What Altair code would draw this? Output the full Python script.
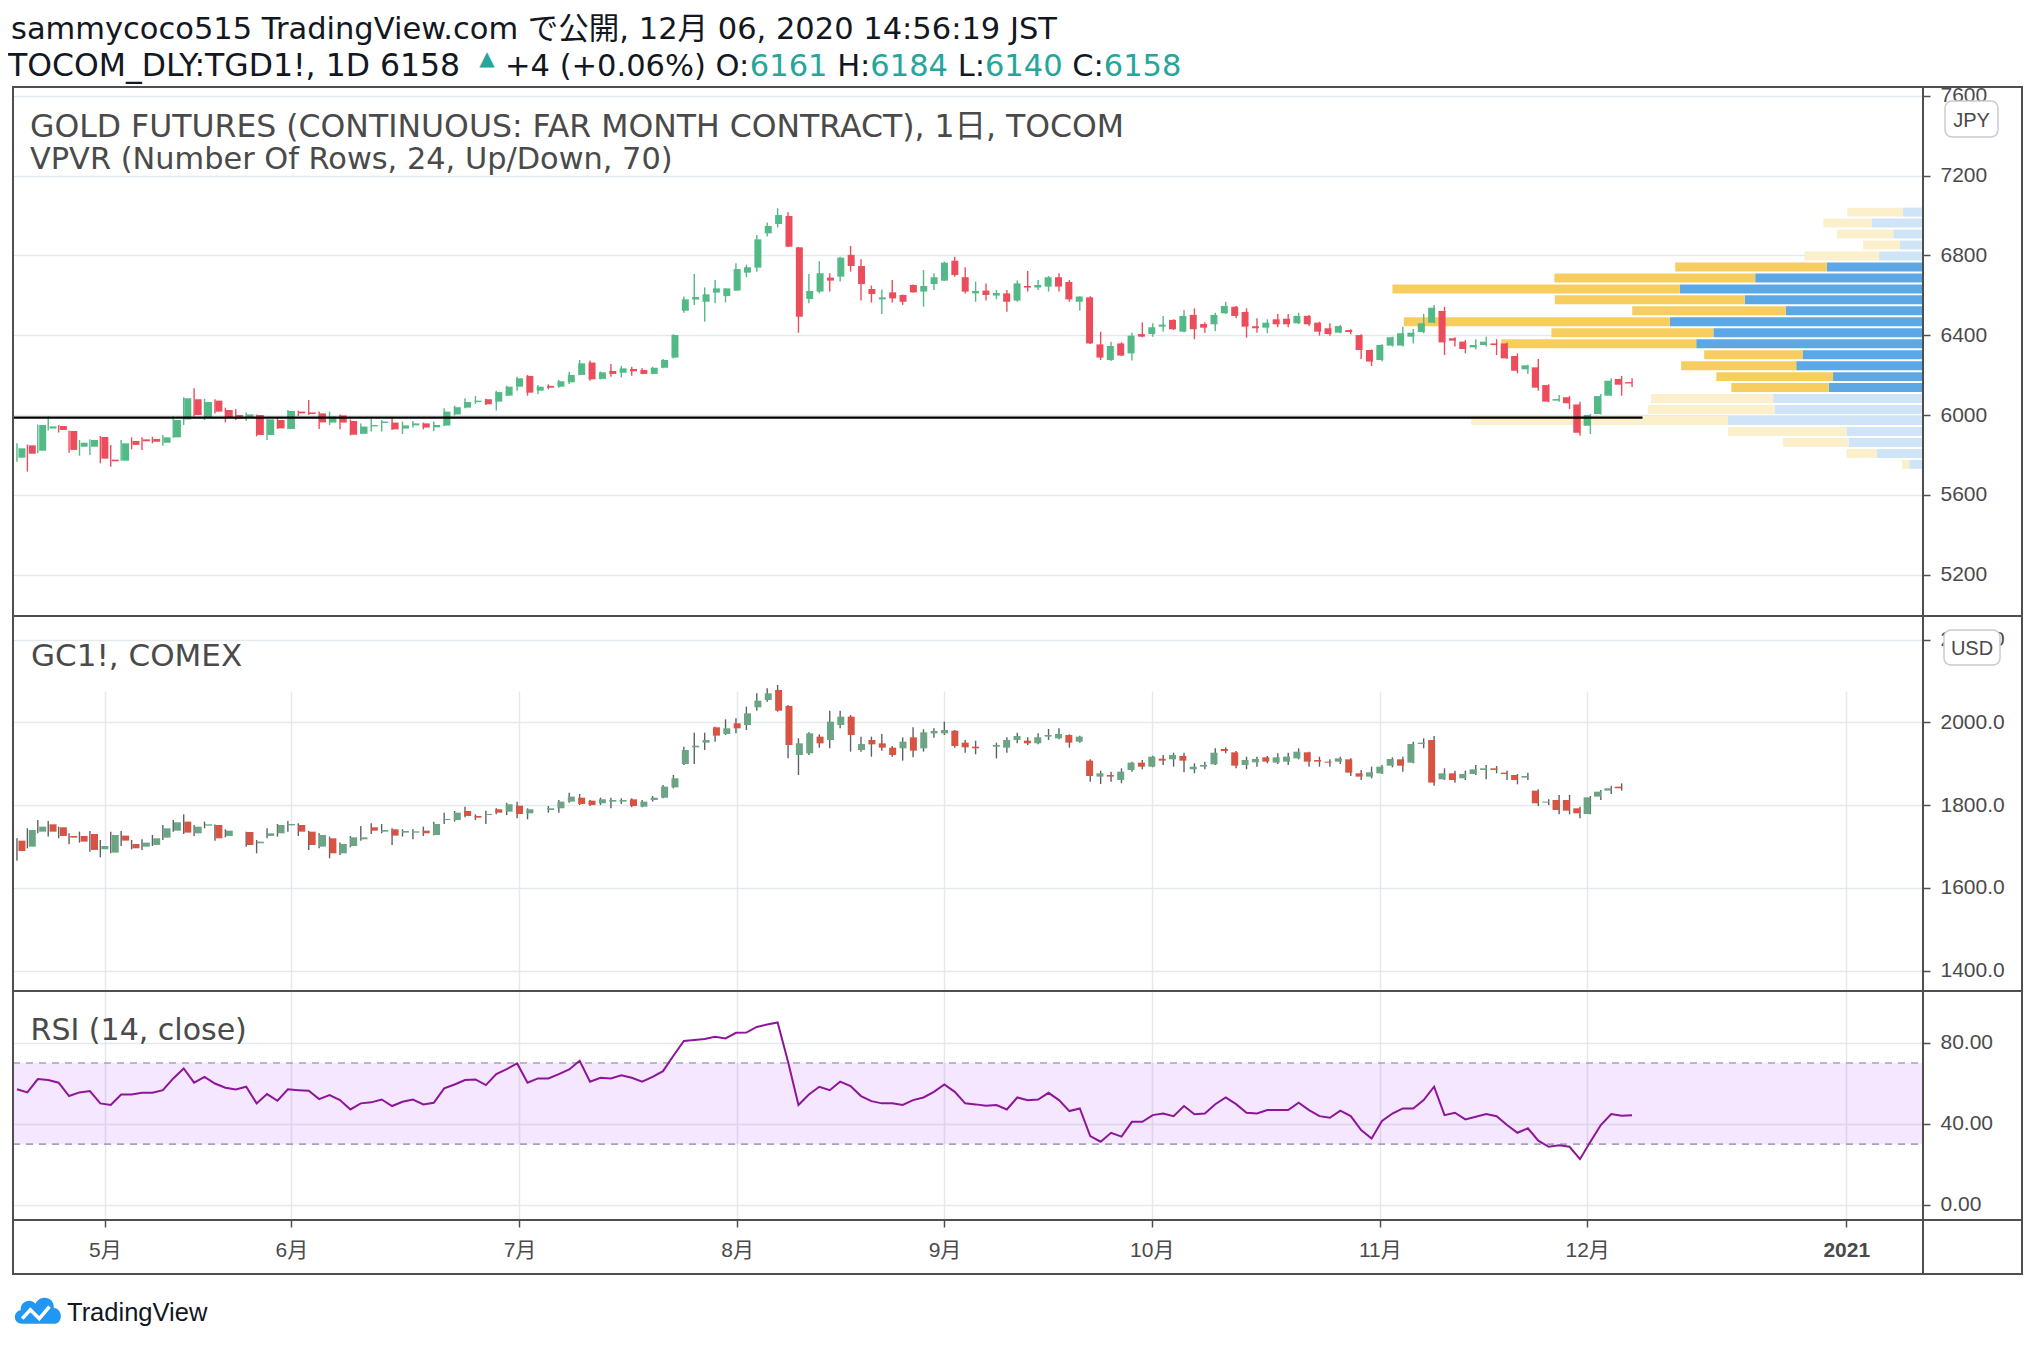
import altair as alt
import pandas as pd

# ---------------- data ----------------
# TOCOM gold (JPY), one entry per trading bar, bar index 0 = 2020-04-20
t_open = [5786, 5848, 5821, 5932, 5945, 5920, 5841, 5841, 5890, 5776,
 5771, 5870, 5878, 5880, 5861, 5888, 5978, 6079, 5988, 6072,
 6025, 6000, 5988, 6000, 5900, 5975, 5930, 6017, 6013, 6008,
 5962, 5998, 5970, 5906, 5943, 5960, 5962, 5932, 5948, 5958,
 5938, 5947, 6003, 6037, 6065, 6079, 6067, 6097, 6142, 6196,
 6122, 6146, 6142, 6164, 6201, 6263, 6181, 6221, 6212, 6231,
 6226, 6206, 6237, 6288, 6523, 6579, 6568, 6614, 6597, 6624,
 6714, 6739, 6911, 6958, 6998, 6841, 6582, 6619, 6689, 6694,
 6803, 6747, 6632, 6580, 6615, 6602, 6652, 6619, 6657, 6674,
 6774, 6691, 6610, 6624, 6599, 6610, 6574, 6647, 6639, 6644,
 6691, 6667, 6568, 6590, 6354, 6276, 6359, 6309, 6406, 6406,
 6443, 6477, 6418, 6502, 6456, 6455, 6510, 6543, 6517, 6445,
 6438, 6480, 6483, 6460, 6497, 6463, 6435, 6413, 6426, 6401,
 6326, 6276, 6348, 6348, 6393, 6416, 6463, 6522, 6385, 6368,
 6339, 6351, 6359, 6359, 6296, 6229, 6239, 6150, 6072, 6089,
 6053, 5946, 6005, 6097, 6181, 6161]
t_high = [5858, 5852, 5952, 5992, 5950, 5922, 5875, 5878, 5895, 5850,
 5875, 5888, 5888, 5891, 5900, 5992, 6089, 6134, 6082, 6079,
 6037, 6029, 6013, 6002, 5980, 5988, 6025, 6022, 6075, 6017,
 6017, 6003, 5978, 5958, 5983, 5975, 5988, 5967, 5970, 5962,
 5967, 6034, 6047, 6084, 6095, 6082, 6122, 6147, 6192, 6201,
 6151, 6154, 6176, 6217, 6276, 6273, 6218, 6256, 6247, 6242,
 6234, 6242, 6281, 6405, 6594, 6707, 6640, 6677, 6636, 6761,
 6754, 6903, 6966, 7037, 7017, 6843, 6707, 6772, 6711, 6794,
 6848, 6781, 6649, 6630, 6677, 6604, 6655, 6727, 6711, 6769,
 6794, 6741, 6669, 6660, 6627, 6627, 6674, 6722, 6677, 6697,
 6711, 6677, 6596, 6596, 6418, 6368, 6364, 6413, 6465, 6460,
 6497, 6480, 6527, 6535, 6465, 6513, 6568, 6547, 6535, 6485,
 6480, 6507, 6507, 6513, 6502, 6468, 6460, 6451, 6430, 6405,
 6329, 6355, 6393, 6443, 6431, 6507, 6552, 6543, 6390, 6376,
 6380, 6393, 6380, 6363, 6309, 6252, 6281, 6154, 6100, 6095,
 6067, 6005, 6105, 6184, 6196, 6184]
t_low = [5766, 5716, 5808, 5922, 5912, 5811, 5796, 5799, 5758, 5741,
 5770, 5828, 5825, 5858, 5846, 5886, 5950, 5992, 5975, 6008,
 5963, 5975, 5970, 5893, 5875, 5930, 5928, 5995, 6000, 5930,
 5950, 5928, 5898, 5905, 5917, 5917, 5925, 5905, 5937, 5928,
 5920, 5945, 5998, 6034, 6055, 6050, 6022, 6095, 6122, 6097,
 6104, 6129, 6137, 6156, 6200, 6172, 6179, 6192, 6189, 6197,
 6204, 6205, 6234, 6284, 6513, 6552, 6468, 6560, 6565, 6622,
 6691, 6719, 6895, 6941, 6843, 6413, 6560, 6610, 6619, 6669,
 6719, 6574, 6564, 6507, 6564, 6552, 6614, 6543, 6627, 6672,
 6694, 6610, 6568, 6574, 6580, 6518, 6568, 6619, 6627, 6619,
 6619, 6568, 6523, 6356, 6276, 6271, 6296, 6273, 6390, 6393,
 6418, 6426, 6415, 6380, 6413, 6421, 6507, 6485, 6388, 6413,
 6410, 6440, 6440, 6456, 6446, 6398, 6398, 6410, 6405, 6281,
 6246, 6270, 6343, 6343, 6359, 6410, 6460, 6301, 6343, 6309,
 6329, 6343, 6301, 6281, 6209, 6206, 6122, 6064, 6067, 6030,
 5896, 5905, 6003, 6095, 6097, 6140]
t_close = [5833, 5806, 5950, 5943, 5925, 5825, 5861, 5875, 5781, 5768,
 5858, 5850, 5868, 5866, 5888, 5975, 6084, 6000, 6065, 6017,
 5987, 5982, 6003, 5900, 5978, 5933, 6020, 6008, 6005, 5963,
 5992, 5962, 5901, 5942, 5950, 5967, 5928, 5948, 5958, 5937,
 5950, 6017, 6039, 6065, 6072, 6054, 6115, 6142, 6184, 6112,
 6142, 6137, 6169, 6201, 6259, 6179, 6214, 6206, 6234, 6219,
 6206, 6237, 6276, 6401, 6580, 6592, 6605, 6635, 6635, 6732,
 6741, 6881, 6948, 7003, 6844, 6493, 6622, 6711, 6674, 6789,
 6747, 6657, 6607, 6590, 6585, 6568, 6615, 6647, 6691, 6764,
 6702, 6619, 6622, 6602, 6612, 6568, 6660, 6639, 6652, 6691,
 6644, 6580, 6594, 6359, 6288, 6346, 6298, 6398, 6393, 6440,
 6453, 6430, 6497, 6430, 6438, 6502, 6547, 6497, 6443, 6435,
 6463, 6455, 6455, 6497, 6455, 6418, 6406, 6446, 6416, 6326,
 6268, 6351, 6390, 6410, 6413, 6460, 6538, 6364, 6373, 6331,
 6351, 6368, 6351, 6284, 6222, 6249, 6137, 6067, 6080, 6059,
 5911, 6000, 6095, 6172, 6152, 6158]

# COMEX GC1! (USD), same bar index; None = no COMEX bar that day
g_open = [1714.2, 1699.7, 1735.9, 1753.6, 1746.4, 1725.5, 1725.5, 1730.3, 1693.3, 1685.2,
 1726.3, 1706.1, 1699.7, 1703.7, 1721.4, 1738.3, 1760.1, 1731.9, 1750.4, 1752.0,
 1725.5, None, 1735.1, 1707.8, 1725.5, 1731.9, 1751.2, 1752.0, 1735.9, 1699.7,
 1719.8, 1683.6, 1701.3, 1717.4, 1746.4, 1735.9, 1741.6, 1733.5, 1733.5, 1738.3,
 1727.9, 1764.1, 1764.1, 1785.8, 1773.8, 1776.2, 1789.9, 1784.2, 1798.7, 1780.2,
 None, 1788.3, 1792.3, 1808.4, 1818.0, 1810.8, 1804.4, 1808.4, 1808.4, 1814.0,
 1796.3, 1812.4, 1818.0, 1843.0, 1899.3, 1939.6, 1950.9, 1987.9, 1971.8, 1997.6,
 1993.5, 2036.2, 2053.9, 2078.1, 2039.4, 1921.1, 1925.1, 1965.4, 1957.3, 1993.5,
 2013.7, 1933.2, 1957.3, 1949.2, 1938.8, 1937.2, 1963.7, 1937.2, 1973.4, 1973.4,
 1979.8, 1950.9, 1941.2, None, 1941.2, 1938.8, 1957.3, 1955.7, 1949.2, 1965.4,
 1961.3, 1969.4, 1953.3, 1907.4, 1868.8, 1872.8, 1860.7, 1884.9, 1902.6, 1892.9,
 1912.2, 1910.6, 1918.7, 1886.5, 1892.9, 1898.5, 1935.6, 1927.5, 1896.9, 1903.4,
 1915.4, 1902.6, 1905.0, 1913.0, 1927.5, 1909.0, 1905.0, 1905.0, 1910.6, 1876.8,
 1868.8, 1876.8, 1895.3, 1910.6, 1902.6, 1947.6, 1957.3, 1862.3, 1876.8, 1864.7,
 1875.2, 1884.9, 1888.9, 1878.4, 1872.8, 1866.4, 1834.9, 1806.0, 1812.4, 1812.4,
 1792.3, 1778.6, 1820.4, 1835.0, 1844.6]
g_high = [1719.8, 1744.0, 1764.1, 1761.7, 1748.0, 1731.9, 1735.9, 1737.5, 1715.8, 1735.9,
 1737.5, 1715.8, 1717.4, 1727.9, 1752.0, 1764.1, 1777.8, 1752.0, 1760.1, 1753.0,
 1741.6, None, 1735.9, 1715.8, 1744.0, 1754.4, 1761.7, 1756.1, 1738.3, 1731.9,
 1723.9, 1709.4, 1725.5, 1749.6, 1756.1, 1754.4, 1744.0, 1741.6, 1741.6, 1748.0,
 1760.1, 1781.8, 1785.8, 1796.3, 1777.8, 1786.6, 1792.3, 1806.0, 1808.4, 1792.3,
 None, 1797.9, 1812.4, 1830.1, 1826.9, 1812.4, 1818.0, 1818.0, 1816.4, 1816.4,
 1812.4, 1822.1, 1848.6, 1872.8, 1941.2, 1975.0, 1975.0, 1989.5, 2007.2, 2009.6,
 2037.8, 2070.0, 2082.1, 2090.1, 2041.8, 1961.3, 1975.8, 1971.0, 2028.1, 2028.1,
 2017.7, 1965.4, 1965.4, 1971.8, 1942.8, 1963.7, 1987.9, 1983.1, 1985.5, 2001.6,
 1981.5, 1957.3, 1955.7, None, 1950.9, 1963.7, 1975.0, 1963.7, 1973.4, 1983.9,
 1985.5, 1971.0, 1967.8, 1910.6, 1883.2, 1880.8, 1888.9, 1905.0, 1909.0, 1919.5,
 1921.1, 1926.7, 1926.7, 1901.0, 1905.0, 1937.2, 1939.6, 1930.7, 1917.0, 1917.0,
 1918.7, 1925.1, 1926.7, 1937.2, 1929.1, 1917.0, 1910.6, 1917.0, 1913.0, 1884.9,
 1892.9, 1896.9, 1915.4, 1917.0, 1953.3, 1961.3, 1967.0, 1888.9, 1883.2, 1883.2,
 1896.9, 1896.9, 1894.5, 1883.2, 1875.2, 1878.4, 1838.2, 1814.0, 1824.5, 1824.5,
 1796.3, 1822.1, 1836.6, 1847.0, 1852.6]
g_low = [1665.9, 1695.7, 1731.9, 1723.9, 1719.8, 1705.3, 1709.4, 1687.6, 1674.0, 1683.6,
 1701.3, 1693.3, 1691.7, 1701.3, 1715.8, 1735.9, 1730.3, 1725.5, 1744.0, 1714.2,
 1722.2, None, 1699.7, 1683.6, 1719.8, 1723.9, 1735.9, 1725.5, 1691.7, 1695.7,
 1671.6, 1679.6, 1698.1, 1714.2, 1730.3, 1731.9, 1703.7, 1723.9, 1717.4, 1725.5,
 1727.0, 1754.4, 1760.1, 1770.5, 1764.1, 1754.4, 1777.8, 1776.2, 1768.1, 1765.7,
 None, 1781.8, 1781.8, 1806.0, 1800.3, 1797.9, 1800.3, 1792.3, 1802.7, 1794.7,
 1794.7, 1808.4, 1816.4, 1840.6, 1896.9, 1899.3, 1933.2, 1953.3, 1969.4, 1973.4,
 1981.5, 2028.1, 2049.9, 2025.7, 1913.0, 1872.8, 1921.1, 1938.8, 1937.2, 1985.5,
 1929.1, 1929.1, 1917.0, 1931.5, 1917.0, 1907.4, 1915.4, 1929.1, 1962.9, 1969.4,
 1938.8, 1926.7, 1922.7, None, 1913.0, 1926.7, 1949.2, 1945.2, 1946.8, 1957.3,
 1958.9, 1938.8, 1950.9, 1856.7, 1851.0, 1856.7, 1852.7, 1880.8, 1886.5, 1891.3,
 1896.9, 1892.9, 1879.2, 1876.8, 1886.5, 1896.9, 1925.1, 1888.9, 1886.5, 1892.9,
 1901.0, 1899.3, 1896.9, 1910.6, 1892.9, 1892.9, 1892.9, 1899.3, 1870.4, 1860.7,
 1864.7, 1875.2, 1891.3, 1880.8, 1901.0, 1937.2, 1847.0, 1860.7, 1854.3, 1860.7,
 1872.8, 1862.3, 1876.8, 1860.7, 1850.2, 1860.7, 1797.9, 1800.3, 1777.8, 1777.8,
 1768.1, 1777.8, 1812.4, 1826.9, 1835.0]
g_close = [1689.2, 1739.9, 1748.0, 1735.9, 1725.5, 1721.4, 1711.8, 1691.7, 1701.3, 1727.9,
 1714.2, 1695.7, 1709.4, 1719.8, 1744.0, 1758.5, 1733.5, 1748.0, 1753.6, 1719.8,
 1738.3, None, 1703.7, 1711.8, 1731.9, 1752.0, 1754.4, 1735.9, 1703.7, 1727.9,
 1683.6, 1706.1, 1722.2, 1722.2, 1738.3, 1739.9, 1726.3, 1737.5, 1736.7, 1731.9,
 1754.4, 1766.5, 1781.8, 1773.8, 1769.7, 1778.6, 1781.8, 1802.0, 1778.6, 1789.9,
 None, 1792.3, 1808.4, 1820.5, 1802.7, 1800.3, 1814.0, 1812.4, 1812.4, 1797.9,
 1808.4, 1818.0, 1844.6, 1864.7, 1933.2, 1943.6, 1957.3, 1967.8, 1985.5, 1985.5,
 2021.7, 2052.3, 2070.0, 2028.1, 1945.2, 1949.2, 1973.4, 1949.2, 2001.6, 2013.7,
 1969.4, 1947.6, 1946.8, 1938.8, 1921.1, 1953.3, 1931.5, 1975.8, 1979.0, 1981.5,
 1942.8, 1939.6, 1937.2, None, 1945.2, 1957.3, 1967.0, 1949.2, 1963.7, 1969.4,
 1971.8, 1950.9, 1965.4, 1870.4, 1876.8, 1868.8, 1880.8, 1902.6, 1892.9, 1917.0,
 1907.4, 1921.1, 1907.4, 1892.9, 1896.9, 1926.7, 1930.7, 1895.3, 1909.0, 1911.4,
 1905.0, 1915.4, 1917.0, 1929.1, 1905.0, 1905.0, 1902.6, 1913.0, 1878.4, 1868.8,
 1879.2, 1892.9, 1911.4, 1895.3, 1947.6, 1950.9, 1854.3, 1876.8, 1860.7, 1875.2,
 1886.5, 1888.9, 1884.9, 1875.2, 1860.7, 1870.4, 1804.4, 1808.4, 1788.3, 1786.6,
 1780.2, 1818.8, 1832.5, 1840.6, 1840.6]

# RSI(14, close), same bar index
rsi14 = [57.1, 55.5, 62.1, 61.6, 60.3, 53.7, 55.5, 56.2, 50.1, 49.3,
 54.5, 54.5, 55.3, 55.3, 56.6, 62.4, 67.3, 60.3, 63.2, 59.9,
 57.8, 57.0, 58.3, 50.1, 54.7, 51.4, 57.0, 56.6, 56.3, 52.2,
 54.2, 51.7, 47.1, 50.1, 50.6, 52.0, 48.8, 50.9, 52.0, 49.6,
 50.4, 57.5, 59.4, 61.6, 61.9, 59.1, 64.5, 67.0, 69.8, 60.3,
 62.4, 62.4, 64.5, 66.8, 71.1, 60.8, 62.7, 62.4, 64.0, 62.7,
 60.8, 63.2, 66.0, 73.6, 80.9, 81.3, 81.8, 82.9, 82.1, 84.9,
 85.0, 87.8, 89.0, 90.0, 70.6, 49.3, 54.5, 58.3, 56.6, 60.8,
 58.6, 53.7, 51.2, 50.1, 50.1, 49.3, 51.7, 53.0, 55.8, 59.4,
 55.8, 50.1, 49.6, 48.9, 49.3, 47.1, 53.0, 51.7, 52.0, 55.3,
 51.7, 46.3, 47.6, 34.0, 31.2, 35.6, 33.7, 41.0, 41.0, 44.3,
 45.1, 43.8, 48.8, 44.7, 45.1, 49.7, 53.0, 49.7, 45.5, 45.1,
 46.8, 46.8, 46.8, 50.4, 46.8, 43.8, 43.0, 46.5, 43.8, 36.9,
 32.8, 41.4, 45.1, 47.6, 47.6, 51.7, 58.3, 44.3, 45.5, 42.2,
 43.5, 44.8, 43.8, 39.4, 35.6, 37.8, 31.7, 28.7, 29.5, 28.7,
 22.6, 31.2, 39.4, 44.8, 44.0, 44.3]

# time axis: bar index of the first bar of each month, and its label
month_idx = [8, 26, 48, 69, 89, 109, 131, 151, 176]
month_lbl = ["5月", "6月", "7月", "8月", "9月", "10月", "11月", "12月", "2021"]

jpy_ticks = [5200, 5600, 6000, 6400, 6800, 7200, 7600]
usd_ticks = [1400, 1600, 1800, 2000, 2200]
rsi_ticks = [0, 40, 80]
rsi_levels = [30, 70]

# VPVR, 24 rows, bottom to top (price band of each row, up / down volume)
vp_bottom = [5730, 5785, 5840, 5895, 5950, 6005, 6060, 6115, 6170, 6225, 6280, 6335,
             6390, 6445, 6500, 6555, 6610, 6665, 6720, 6775, 6830, 6885, 6940, 6995]
vp_top = [5775, 5830, 5885, 5940, 5995, 6050, 6105, 6160, 6215, 6270, 6325, 6380,
          6435, 6490, 6545, 6600, 6655, 6710, 6765, 6820, 6875, 6930, 6985, 7040]
vp_up = [3.3, 11.1, 17.8, 18.3, 46.6, 35.5, 35.8, 22.5, 21.5, 30.3, 28.8, 54.2,
         50.1, 60.5, 32.8, 42.6, 58.1, 40.1, 23.0, 10.5, 5.5, 7.1, 12.3, 4.8]
vp_down = [1.7, 7.2, 15.7, 28.3, 61.4, 30.3, 29.2, 23.3, 27.9, 27.5, 23.5, 46.6,
           38.7, 63.6, 36.7, 45.4, 68.7, 48.0, 36.2, 17.8, 8.8, 13.5, 11.5, 13.3]
vp_value_area = [0, 0, 0, 0, 0, 0, 0, 1, 1, 1, 1, 1, 1, 1, 1, 1, 1, 1, 1, 0, 0, 0, 0, 0]
vp_full_width = 456.5   # volume that would span the whole pane width

# user-drawn horizontal line
trend_idx = [-0.38, 156.0]
trend_px = [5987, 5987]

# ---------------- styling / layout ----------------
W, H = 1910, 1133            # plot area (page x 13..1923, y 87..1220)
XD = [-0.38, 182.92]
P1 = ([4992, 7645], [529, 0])
P2 = ([1351, 2256.8], [904, 529])
P3 = ([-7.4, 105.5], [1133, 904])

T_UP, T_DN = "#53b987", "#eb4d5c"
G_UP, G_DN, G_WICK = "#6ba583", "#d75442", "#5d606b"
GRID, FRAME, LBL = "#e4e9ee", "#4f4f4f", "#4a4a4a"
BLACK, TEAL = "#131722", "#26a69a"
AX_FONT = "Liberation Sans, Arial, Noto Sans CJK JP, sans-serif"
TX_FONT = "DejaVu Sans, Noto Sans CJK JP, sans-serif"


def xsc():
    return alt.Scale(domain=XD, range=[0, W], nice=False, zero=False)


def ysc(p):
    return alt.Scale(domain=p[0], range=p[1], nice=False, zero=False)


def yaxis(vals, fmt):
    return alt.Axis(orient="right", values=vals, format=fmt, title=None, grid=True,
                    gridColor=GRID, gridWidth=1.5, domain=False, ticks=True, tickSize=7,
                    tickColor=FRAME, tickWidth=1.5, labelFont=AX_FONT, labelFontSize=21,
                    labelColor=LBL, labelPadding=10, labelFlush=False, labelOverlap=False)


lbl_expr = "".join(f"datum.value == {v} ? '{t}' : " for v, t in zip(month_idx, month_lbl)) + "''"
xaxis = alt.Axis(orient="bottom", values=month_idx, labelExpr=lbl_expr, title=None, grid=True,
                 gridColor=GRID, gridWidth=1.5, domain=False, ticks=True, tickSize=7,
                 tickColor=FRAME, tickWidth=1.5, labelFont=AX_FONT, labelFontSize=21,
                 labelColor=LBL, labelPadding=12, labelFlush=False, labelOverlap=False,
                 labelFontWeight={"condition": {"test": f"datum.value == {month_idx[-1]}",
                                                "value": "bold"}, "value": "normal"})

ONE = alt.Data(values=[{"k": 1}])

# ---------------- tables ----------------
tdf = pd.DataFrame({"i": list(range(len(t_open))), "o": t_open, "h": t_high, "l": t_low, "c": t_close})
tdf["col"] = [T_UP if c >= o else T_DN for o, c in zip(tdf.o, tdf.c)]

gdf = pd.DataFrame({"i": list(range(len(g_open))), "o": g_open, "h": g_high, "l": g_low, "c": g_close}).dropna()
gdf["col"] = [G_UP if c >= o else G_DN for o, c in zip(gdf.o, gdf.c)]

rdf = pd.DataFrame({"i": list(range(len(rsi14))), "r": rsi14})

vdf = pd.DataFrame({"bot": vp_bottom, "top": vp_top, "up": vp_up, "dn": vp_down, "va": vp_value_area})
vdf["tot"] = vdf.up + vdf.dn
vdf["zero"] = 0.0
vdf["c_up"] = ["#5ca8e6" if v else "#cfe4f6" for v in vdf.va]
vdf["c_dn"] = ["#f8cd5f" if v else "#fcefcc" for v in vdf.va]

vx = alt.Scale(domain=[0, vp_full_width], range=[W, 0], nice=False, zero=False)

layers = []

# VPVR
layers.append(alt.Chart(vdf).mark_rect().encode(
    x=alt.X("zero:Q", scale=vx, axis=None), x2="up:Q",
    y=alt.Y("bot:Q", scale=ysc(P1), axis=None), y2="top:Q",
    color=alt.Color("c_up:N", scale=None)))
layers.append(alt.Chart(vdf).mark_rect().encode(
    x=alt.X("up:Q", scale=vx, axis=None), x2="tot:Q",
    y=alt.Y("bot:Q", scale=ysc(P1), axis=None), y2="top:Q",
    color=alt.Color("c_dn:N", scale=None)))

# TOCOM candles
layers.append(alt.Chart(tdf).mark_rule(strokeWidth=1.4).encode(
    x=alt.X("i:Q", scale=xsc(), axis=None),
    y=alt.Y("l:Q", scale=ysc(P1), axis=None), y2="h:Q",
    color=alt.Color("col:N", scale=None)))
layers.append(alt.Chart(tdf).transform_calculate(
    b0="min(datum.o, datum.c)",
    b1="max(max(datum.o, datum.c), min(datum.o, datum.c) + 7)").mark_bar(size=7).encode(
    x=alt.X("i:Q", scale=xsc(), axis=xaxis),
    y=alt.Y("b0:Q", scale=ysc(P1), axis=yaxis(jpy_ticks, "d")), y2="b1:Q",
    color=alt.Color("col:N", scale=None)))

# horizontal line
layers.append(alt.Chart(pd.DataFrame({"i": trend_idx, "p": trend_px})).mark_line(
    color="#000000", strokeWidth=2.2).encode(
    x=alt.X("i:Q", scale=xsc(), axis=None),
    y=alt.Y("p:Q", scale=ysc(P1), axis=None)))

# GC candles
layers.append(alt.Chart(gdf).mark_rule(strokeWidth=1.4, color=G_WICK).encode(
    x=alt.X("i:Q", scale=xsc(), axis=None),
    y=alt.Y("l:Q", scale=ysc(P2), axis=None), y2="h:Q"))
layers.append(alt.Chart(gdf).transform_calculate(
    b0="min(datum.o, datum.c)",
    b1="max(max(datum.o, datum.c), min(datum.o, datum.c) + 2.5)").mark_bar(size=7).encode(
    x=alt.X("i:Q", scale=xsc(), axis=None),
    y=alt.Y("b0:Q", scale=ysc(P2), axis=yaxis(usd_ticks, ".1f")), y2="b1:Q",
    color=alt.Color("col:N", scale=None)))

# RSI
layers.append(alt.Chart(pd.DataFrame({"lo": [rsi_levels[0]], "hi": [rsi_levels[1]]})).mark_rect(
    color="#9915ff", opacity=0.1).encode(
    x=alt.value(0), x2=alt.value(W),
    y=alt.Y("lo:Q", scale=ysc(P3), axis=None), y2="hi:Q"))
layers.append(alt.Chart(pd.DataFrame({"v": rsi_levels})).mark_rule(
    color="#a8a2b4", strokeWidth=1.6, strokeDash=[7, 6]).encode(
    x=alt.value(0), x2=alt.value(W),
    y=alt.Y("v:Q", scale=ysc(P3), axis=None)))
layers.append(alt.Chart(rdf).mark_line(color="#8e1599", strokeWidth=2).encode(
    x=alt.X("i:Q", scale=xsc(), axis=None),
    y=alt.Y("r:Q", scale=ysc(P3), axis=yaxis(rsi_ticks, ".2f"))))

# frame


def hline(y, x1, x2):
    return alt.Chart(ONE).mark_rule(color=FRAME, strokeWidth=2).encode(
        x=alt.value(x1), x2=alt.value(x2), y=alt.value(y))


def vline(x, y1, y2):
    return alt.Chart(ONE).mark_rule(color=FRAME, strokeWidth=2).encode(
        x=alt.value(x), y=alt.value(y1), y2=alt.value(y2))


RIGHT, BOTTOM = 2009, 1187
for yy in [0, 529, 904, 1133, BOTTOM]:
    layers.append(hline(yy, -1, RIGHT + 1))
for xx in [0, W, RIGHT]:
    layers.append(vline(xx, 0, BOTTOM))


def txt(s, x, y, size, color, font=TX_FONT, align="left", weight="normal"):
    return alt.Chart(alt.Data(values=[{"t": s}])).mark_text(
        align=align, baseline="alphabetic", fontSize=size, font=font, color=color,
        fontWeight=weight).encode(x=alt.value(x), y=alt.value(y), text="t:N")


# currency badges
for (x1, x2, y1, y2, s) in [(1932, 1985, 14, 50, "JPY"), (1931, 1987, 543, 578, "USD")]:
    layers.append(alt.Chart(ONE).mark_rect(fill="white", stroke="#c9ccd4", strokeWidth=1.5,
                                           cornerRadius=7).encode(
        x=alt.value(x1), x2=alt.value(x2), y=alt.value(y1), y2=alt.value(y2)))
    layers.append(txt(s, (x1 + x2) / 2, (y1 + y2) / 2 + 7.5, 20, LBL, AX_FONT, "center"))

# pane titles
layers.append(txt("GOLD FUTURES (CONTINUOUS: FAR MONTH CONTRACT), 1日, TOCOM", 17, 49.7, 31.5, LBL))
layers.append(txt("VPVR (Number Of Rows, 24, Up/Down, 70)", 17, 81.6, 30.4, LBL))
layers.append(txt("GC1!, COMEX", 18, 578.7, 31, LBL))
layers.append(txt("RSI (14, close)", 17.6, 953, 30, LBL))

# header
F1 = 30.5
F2 = 30.5
Y1, Y2 = -48.5, -11.5
layers.append(txt("sammycoco515 TradingView.com で公開, 12月 06, 2020 14:56:19 JST", -2, Y1, F1, BLACK))
layers.append(txt("TOCOM_DLY:TGD1!, 1D 6158", -5, Y2, 31.5, BLACK))
layers.append(txt("▲", 474, Y2 - 11, 20, TEAL, TX_FONT, "center"))
# DejaVu Sans advance widths (em) for laying out the coloured pieces of line 2
EM = {"+": .838, "4": .636, " ": .318, "(": .390, "0": .636, ".": .318, "6": .636, "%": .950,
      ")": .390, "O": .787, ":": .337, "1": .636, "8": .636, "5": .636, "H": .752, "L": .557,
      "C": .698}
pieces = [("+4 (+0.06%) O:", BLACK), ("6161", TEAL), (" H:", BLACK), ("6184", TEAL),
          (" L:", BLACK), ("6140", TEAL), (" C:", BLACK), ("6158", TEAL)]
px = 492.0
for s, col in pieces:
    lead = len(s) - len(s.lstrip(" "))
    px += lead * EM[" "] * F2
    body = s.lstrip(" ")
    layers.append(txt(body, px, Y2, F2, col))
    px += sum(EM[ch] for ch in body) * F2

# TradingView logo
cloud = ("M -0.62 0.5 C -0.98 0.5 -1 0.02 -0.68 -0.03 C -0.7 -0.4 -0.28 -0.52 -0.1 -0.28 "
         "C 0.05 -0.64 0.64 -0.6 0.62 -0.12 C 0.98 -0.1 1 0.5 0.62 0.5 Z")
zig = "M -0.62 0.3 L -0.3 -0.05 L 0.05 0.3 L 0.45 -0.17"
layers.append(alt.Chart(ONE).mark_point(shape=cloud, size=2600, filled=True, color="#2196f3",
                                        opacity=1).encode(x=alt.value(25), y=alt.value(1224)))
layers.append(alt.Chart(ONE).mark_point(shape=zig, size=2600, filled=False, color="white",
                                        strokeWidth=3.5, opacity=1).encode(x=alt.value(25), y=alt.value(1224)))
layers.append(txt("TradingView", 54, 1233.5, 25.5, BLACK, AX_FONT))

chart = alt.layer(*layers).resolve_scale(x="independent", y="independent").properties(
    width=W, height=H,
    padding={"left": 5, "top": 79, "right": 100, "bottom": 110},
    autosize=alt.AutoSizeParams(type="none"),
).configure_view(stroke=None).configure(background="white")

chart.save("out.html", embed_options={"renderer": "svg", "actions": False})
